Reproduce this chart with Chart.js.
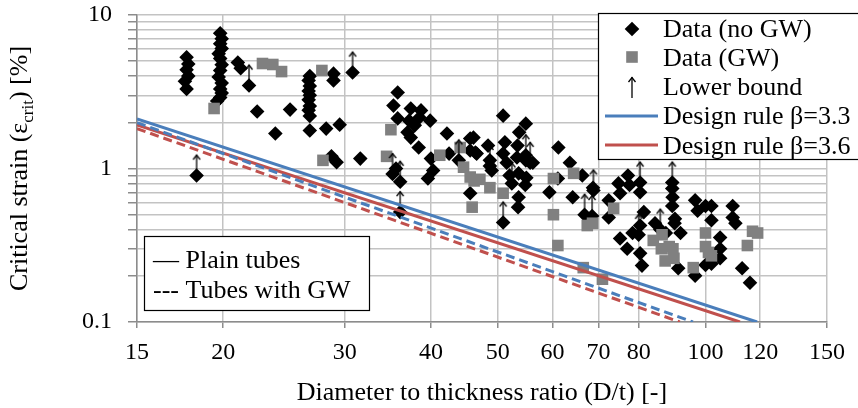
<!DOCTYPE html>
<html>
<head>
<meta charset="utf-8">
<script src="https://cdn.jsdelivr.net/npm/chart.js@4.4.1/dist/chart.umd.min.js"></script>
<style>
  html, body { margin: 0; padding: 0; background: #fff; }
  #wrap { width: 858px; height: 408px; }
</style>
</head>
<body>
<div id="wrap"><canvas id="c" width="858" height="408"></canvas></div>
<script>
const FONT = "'Liberation Serif', 'Times New Roman', serif";

// Axis ticks
const xTickValues = [15, 20, 30, 40, 50, 60, 70, 80, 100, 120, 150];
const yTickValues = [0.1, 0.2, 0.3, 0.4, 0.5, 0.6, 0.7, 0.8, 0.9, 1, 2, 3, 4, 5, 6, 7, 8, 9, 10];
const yTickLabels = [0.1, 1, 10];

// Test results without girth welds: D/t and critical strain [%]
const noGwDt = [
  17.7, 17.8, 17.7, 17.8, 17.6, 17.7, 18.3,
  19.8, 19.9, 19.8, 19.9, 19.7, 19.8, 19.9, 19.8, 19.7, 19.9, 19.8, 19.9, 19.8, 19.6,
  21.0, 21.2, 21.8, 22.4, 23.8, 25.0,
  26.7, 26.6, 26.7, 26.6, 26.7, 26.6, 26.7, 26.6, 26.7, 26.7,
  28.9, 28.9, 28.2, 29.5, 28.7, 29.2, 30.8, 31.6,
  35.8, 35.3, 37.4, 38.7, 35.8, 37.2, 39.9, 38.5, 37.0, 37.4, 38.4, 37.9, 42.2, 40.0, 40.3, 39.6,
  42.5, 45.6, 45.6, 46.6, 45.6, 35.2, 36.1, 36.1, 35.6, 43.9,
  50.9, 54.9, 53.7, 46.1, 46.4, 48.4, 51.2, 53.4, 48.7, 50.9, 51.5, 53.3, 54.9, 56.2, 49.0,
  52.0, 53.6, 55.0, 52.4, 54.8, 53.6, 53.5, 50.9, 59.4, 61.2, 63.6, 64.2, 61.1, 66.3, 68.7,
  66.8, 48.7, 54.9, 55.7,
  68.8, 68.5, 72.4, 72.4, 75.2, 74.8, 77.2, 77.6, 80.4, 80.4, 89.5, 89.5, 89.6, 89.5, 81.4,
  78.4, 75.2, 80.4, 77.0, 80.9, 80.4, 84.5, 90.2, 92.0, 87.6, 91.3, 96.6, 96.6, 97.4, 100,
  90.3, 102, 102, 100, 102, 105, 105, 105, 109.5, 109.5, 110.5, 113, 116, 80.0, 86.0
];
const noGwStrain = [
  5.3, 4.8, 4.4, 4.0, 3.7, 3.3, 0.9,
  7.6, 7.0, 6.5, 6.05, 5.6, 5.2, 4.75, 4.35, 3.95, 3.6, 3.3, 3.1, 2.9, 2.75,
  4.9, 4.5, 3.47, 2.35, 1.69, 2.42,
  4.0, 3.75, 3.45, 3.2, 3.0, 2.8, 2.55, 2.4, 2.2, 1.77,
  4.15, 3.75, 1.82, 1.93, 1.2, 1.1, 4.22, 1.16,
  3.13, 2.57, 2.46, 2.39, 2.12, 2.05, 2.05, 2.15, 1.72, 1.59, 1.37, 1.91, 1.69, 1.16, 0.97, 0.86,
  1.25, 1.57, 1.31, 1.25, 0.69, 0.92, 0.82, 0.52, 1.0, 1.13,
  2.21, 1.96, 1.72, 1.59, 1.27, 1.41, 1.48, 1.41, 1.13, 1.25, 1.09, 1.18, 1.13, 1.09, 0.97,
  0.9, 0.93, 0.87, 0.8, 0.78, 0.65, 0.56, 0.445, 0.7, 1.37, 1.09, 0.65, 0.86, 0.9, 0.75,
  0.5, 1.04, 1.22, 1.09,
  0.72, 0.49, 0.62, 0.48, 0.69, 0.8, 0.9, 0.78, 0.81, 0.7, 0.81, 0.74, 0.65, 0.57, 0.52,
  0.38, 0.35, 0.425, 0.30, 0.233, 0.28, 0.44, 0.44, 0.38, 0.38, 0.224, 0.2, 0.62, 0.53, 0.57,
  0.47, 0.57, 0.46, 0.235, 0.24, 0.355, 0.3, 0.26, 0.57, 0.48, 0.44, 0.224, 0.18, 0.37, 0.40
];

// Test results with girth welds
const gwDt = [
  19.4, 22.8, 23.6, 24.3, 27.8, 27.9,
  35.0, 34.5, 41.2, 44.1, 44.6, 45.6, 46.2, 45.9,
  47.1, 48.7, 50.9, 60.2, 64.4, 60.2, 61.1, 67.4, 68.6, 66.5, 70.9,
  73.6, 84.0, 86.5, 86.3, 89.7, 87.4, 90.0, 96.0, 100, 100, 101, 102, 115, 117, 119, 88.6
];
const gwStrain = [
  2.46, 4.83, 4.76, 4.28, 4.35, 1.13,
  1.79, 1.2, 1.22, 1.37, 1.02, 0.88, 0.83, 0.56,
  0.85, 0.75, 0.69, 0.86, 0.93, 0.5, 0.315, 0.425, 0.44, 0.226, 0.19,
  0.55, 0.34, 0.37, 0.30, 0.30, 0.25, 0.26, 0.226, 0.38, 0.31, 0.284, 0.27, 0.315, 0.39, 0.38, 0.31
];

// Tests that stopped before failure (value is a lower bound)
const lbDt = [18.3, 21.8, 30.8, 35.2, 36.1, 36.1, 43.9, 48.7, 50.9, 52.4, 54.9, 55.7, 68.8, 66.8, 68.5, 80.4, 89.5, 80.0, 86.0];
const lbStrain = [0.9, 3.47, 4.22, 0.92, 0.82, 0.52, 1.13, 1.04, 0.445, 0.8, 1.22, 1.09, 0.72, 0.5, 0.49, 0.81, 0.81, 0.37, 0.40];

// Design rules (straight lines in log-log space): end points
const ruleDt33Plain = [15, 118.8];
const ruleEps33Plain = [2.10, 0.1];
const ruleDt33Gw = [15, 95.9];
const ruleEps33Gw = [1.99, 0.1];
const ruleDt36Plain = [15, 112.2];
const ruleEps36Plain = [1.92, 0.1];
const ruleDt36Gw = [15, 91.8];
const ruleEps36Gw = [1.82, 0.1];

const BLUE = '#4a7ebb';
const RED = '#c0504d';
const GREY = '#808080';

const pairs = (xs, ys) => xs.map((x, i) => ({ x: x, y: ys[i] }));

function drawArrow(g, x, tipY, len) {
  g.save();
  g.strokeStyle = '#000';
  g.lineWidth = 1.3;
  g.beginPath();
  g.moveTo(x, tipY);
  g.lineTo(x, tipY + len);
  g.stroke();
  g.beginPath();
  g.moveTo(x - 3.5, tipY + 5);
  g.lineTo(x, tipY + 0.5);
  g.lineTo(x + 3.5, tipY + 5);
  g.stroke();
  g.restore();
}

// Arrow marker: tip 21 px above the data point
const arrowImg = document.createElement('canvas');
arrowImg.width = 12;
arrowImg.height = 48;
drawArrow(arrowImg.getContext('2d'), 6, 3, 15);

function rich(ctx, parts, x, y) {
  let cx = x;
  parts.forEach(p => {
    ctx.font = p.font;
    ctx.fillText(p.text, cx, y + (p.dy || 0));
    cx += ctx.measureText(p.text).width;
  });
}
function richWidth(ctx, parts) {
  let w = 0;
  parts.forEach(p => { ctx.font = p.font; w += ctx.measureText(p.text).width; });
  return w;
}

const overlay = {
  id: 'overlay',
  afterDraw(chart) {
    const ctx = chart.ctx;
    const area = chart.chartArea;
    ctx.save();
    ctx.fillStyle = '#000';
    ctx.textBaseline = 'alphabetic';

    // x axis title
    ctx.font = '26px ' + FONT;
    ctx.textAlign = 'center';
    ctx.fillText('Diameter to thickness ratio (D/t) [-]', (area.left + area.right) / 2, 400);

    // y axis title with subscript
    ctx.textAlign = 'left';
    const yParts = [
      { text: 'Critical strain (\u03b5', font: '26px ' + FONT },
      { text: 'crit', font: '17px ' + FONT, dy: 6 },
      { text: ') [%]', font: '26px ' + FONT }
    ];
    ctx.save();
    ctx.translate(27, (area.top + area.bottom) / 2);
    ctx.rotate(-Math.PI / 2);
    rich(ctx, yParts, -richWidth(ctx, yParts) / 2, 0);
    ctx.restore();

    // series legend (top right)
    ctx.fillStyle = '#fff';
    ctx.fillRect(598, 13, 270, 146);
    ctx.strokeStyle = '#000';
    ctx.lineWidth = 1.2;
    ctx.strokeRect(598.5, 13.5, 300, 146);
    const mx = 632, tx = 663;
    // diamond
    ctx.fillStyle = '#000';
    ctx.beginPath();
    ctx.moveTo(mx, 29 - 7.3); ctx.lineTo(mx + 7.3, 29); ctx.lineTo(mx, 29 + 7.3); ctx.lineTo(mx - 7.3, 29);
    ctx.closePath(); ctx.fill();
    // square
    ctx.fillStyle = GREY;
    ctx.fillRect(mx - 5.8, 57 - 5.8, 11.6, 11.6);
    // arrow
    drawArrow(ctx, mx, 77, 21);
    // lines
    ctx.lineWidth = 3;
    ctx.strokeStyle = BLUE;
    ctx.beginPath(); ctx.moveTo(605, 116); ctx.lineTo(658, 116); ctx.stroke();
    ctx.strokeStyle = RED;
    ctx.beginPath(); ctx.moveTo(605, 145); ctx.lineTo(658, 145); ctx.stroke();
    ctx.fillStyle = '#000';
    ctx.font = '26px ' + FONT;
    ctx.fillText('Data (no GW)', tx, 36.5);
    ctx.fillText('Data (GW)', tx, 65.5);
    ctx.fillText('Lower bound', tx, 95);
    ctx.fillText('Design rule \u03b2=3.3', tx, 124);
    ctx.fillText('Design rule \u03b2=3.6', tx, 153.5);

    // line style legend (bottom left)
    ctx.fillStyle = '#fff';
    ctx.fillRect(144.5, 236.5, 225, 74);
    ctx.lineWidth = 1.2;
    ctx.strokeStyle = '#000';
    ctx.strokeRect(144.5, 236.5, 225, 74);
    ctx.fillStyle = '#000';
    ctx.fillText('\u2014 Plain tubes', 153, 268);
    ctx.fillText('--- Tubes with GW', 153, 298);
    ctx.restore();
  }
};

const gridOpts = { color: '#c3c3c3', lineWidth: 1.5, tickColor: '#8c8c8c' };

new Chart(document.getElementById('c'), {
  type: 'scatter',
  data: {
    datasets: [
      { label: 'Design rule \u03b2=3.3', data: pairs(ruleDt33Plain, ruleEps33Plain), showLine: true,
        borderColor: BLUE, borderWidth: 3, pointRadius: 0, order: 1 },
      { label: 'Design rule \u03b2=3.3 (GW)', data: pairs(ruleDt33Gw, ruleEps33Gw), showLine: true,
        borderColor: BLUE, borderWidth: 3, borderDash: [9, 5], pointRadius: 0, order: 1 },
      { label: 'Design rule \u03b2=3.6', data: pairs(ruleDt36Plain, ruleEps36Plain), showLine: true,
        borderColor: RED, borderWidth: 3, pointRadius: 0, order: 1 },
      { label: 'Design rule \u03b2=3.6 (GW)', data: pairs(ruleDt36Gw, ruleEps36Gw), showLine: true,
        borderColor: RED, borderWidth: 3, borderDash: [9, 5], pointRadius: 0, order: 1 },
      { label: 'Lower bound', data: pairs(lbDt, lbStrain), pointStyle: arrowImg, pointRadius: 6, order: 2 },
      { label: 'Data (GW)', data: pairs(gwDt, gwStrain), pointStyle: 'rect', pointRadius: 8.2,
        pointBackgroundColor: GREY, pointBorderWidth: 0, order: 3 },
      { label: 'Data (no GW)', data: pairs(noGwDt, noGwStrain), pointStyle: 'rectRot', pointRadius: 7.3,
        pointBackgroundColor: '#000', pointBorderWidth: 0, order: 4 }
    ]
  },
  options: {
    responsive: false,
    animation: false,
    events: [],
    layout: { padding: { left: 0, right: 31, top: 15, bottom: 0 } },
    plugins: { legend: { display: false }, tooltip: { enabled: false } },
    scales: {
      x: {
        type: 'logarithmic', min: 15, max: 150,
        afterBuildTicks: s => { s.ticks = xTickValues.map(v => ({ value: v })); },
        afterFit: s => { s.height = 86; },
        ticks: { autoSkip: false, maxRotation: 0, color: '#000', padding: 10,
                 font: { family: FONT, size: 24 }, callback: v => String(v) },
        grid: Object.assign({ tickLength: 6 }, gridOpts),
        border: { color: '#8c8c8c', width: 1.5 }
      },
      y: {
        type: 'logarithmic', min: 0.1, max: 10,
        afterBuildTicks: s => { s.ticks = yTickValues.map(v => ({ value: v })); },
        afterFit: s => { s.width = 137; s.paddingTop = 0; s.paddingBottom = 0; },
        ticks: { autoSkip: false, color: '#000', padding: 16,
                 font: { family: FONT, size: 24 },
                 callback: v => (yTickLabels.includes(v) ? String(v) : '') },
        grid: Object.assign({ tickLength: 9 }, gridOpts),
        border: { color: '#8c8c8c', width: 1.5 }
      }
    }
  },
  plugins: [overlay]
});
</script>
</body>
</html>
